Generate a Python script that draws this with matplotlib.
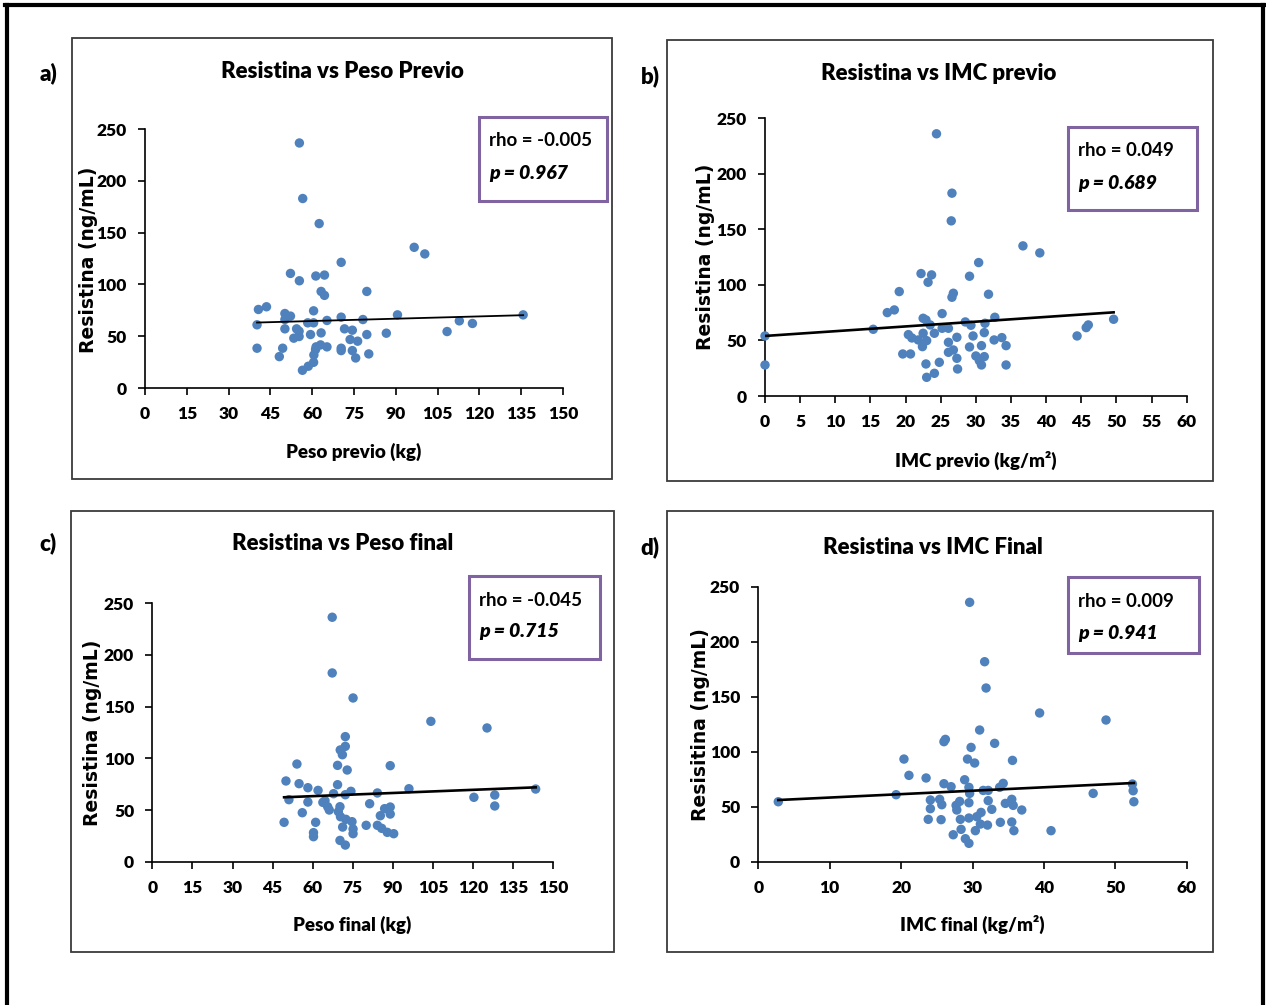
import matplotlib
matplotlib.use("Agg")
import matplotlib.pyplot as plt
from matplotlib.patches import Rectangle
from matplotlib.lines import Line2D
import numpy as np

W, H = 1266, 1005
NARROW = ['Lato', 'DejaVu Sans']

# ---- data ----
a_x = [55.4,56.6,62.5,96.6,100.4,70.4,52.2,55.4,61.3,64.4,63.2,64.4,79.6,40.7,43.6,50.2,52.2,50.2,60.5,58.4,
       60.5,65.3,70.4,78.2,90.6,135.7,112.8,117.5,108.4,40.2,50.2,54.4,55.3,53.4,55.3,59.4,63.2,71.6,74.4,79.6,
       86.6,73.6,76.3,40.2,49.4,61.4,63.0,65.3,70.4,70.4,74.4,80.3,75.6,48.2,60.6,60.5,58.6,56.5,61.2]
a_y = [236.5,182.9,158.7,135.8,129.4,121.3,110.6,103.5,108.1,109.0,93.2,89.4,93.2,75.8,78.4,71.9,69.4,66.1,74.5,62.9,
       62.9,65.2,68.4,66.1,70.6,70.6,64.8,62.3,54.5,61.0,57.1,57.1,54.8,48.1,49.7,51.6,53.2,57.1,55.8,51.6,
       52.9,46.8,45.2,38.4,38.4,39.7,41.6,39.7,38.4,36.1,36.1,32.9,29.0,30.3,31.9,24.8,21.0,17.1,37.1]

b_x = [24.4,26.6,26.5,36.7,39.1,30.4,22.2,23.7,23.2,29.1,19.1,26.8,26.6,31.8,17.4,18.4,25.2,15.4,22.5,22.9,
       23.5,25.2,26.1,28.5,29.3,31.3,32.7,0,0,20.4,20.9,21.8,22.5,23.0,22.4,24.1,27.3,26.1,29.6,31.2,
       32.6,33.7,34.3,30.8,29.1,44.4,45.7,46.0,49.6,19.6,20.7,26.1,26.8,27.3,30.0,31.2,30.5,30.8,22.9,24.8,
       34.3,23.0,24.1,27.4]
b_y = [235.8,182.4,157.5,135.0,128.7,120.0,110.1,108.9,102.3,107.7,93.9,92.4,88.8,91.5,75.0,77.4,74.1,60.0,69.9,68.4,
       63.9,60.9,60.9,66.6,63.6,65.4,70.8,54.0,27.9,55.2,52.2,50.4,56.4,49.8,44.4,56.4,52.8,48.3,54.0,57.0,
       50.4,52.5,45.3,45.3,44.1,54.0,61.5,63.9,69.0,37.8,37.8,39.3,41.4,33.9,36.0,35.4,31.8,27.9,28.8,30.3,
       27.9,16.8,20.4,24.3]

c_x = [67.3,67.3,75.1,104.2,125.2,72.2,72.2,70.3,71.1,54.1,69.3,72.9,89.0,50.0,54.9,58.2,62.0,69.3,96.0,143.4,
       84.2,74.3,72.2,67.8,51.1,58.2,63.8,65.6,66.2,70.2,69.6,81.3,120.3,128.1,128.1,56.1,86.9,89.0,89.0,85.3,
       49.3,61.1,70.4,72.4,74.7,71.2,75.1,75.1,80.0,84.2,85.8,87.9,90.3,60.3,60.3,70.2,72.2,64.6]
c_y = [236.5,182.6,158.4,135.8,129.4,121.0,111.6,108.1,103.5,94.5,93.2,88.7,92.9,78.1,75.5,71.6,69.0,74.5,70.6,70.3,
       66.5,68.1,64.8,65.8,60.0,57.7,57.4,53.2,50.0,53.2,48.4,56.1,62.3,64.5,53.9,47.4,51.3,52.9,46.1,44.5,
       38.1,38.1,43.5,41.0,38.7,33.5,31.6,27.1,35.2,35.2,32.3,28.4,27.1,28.1,24.2,20.6,16.1,59.0]

d_x = [29.6,31.7,31.9,39.4,48.7,31.0,26.0,26.2,29.8,33.1,20.4,29.3,30.3,35.6,21.1,23.5,26.0,27.0,28.9,29.5,
       34.3,33.8,31.5,32.2,52.4,52.5,52.6,46.9,19.3,2.8,24.1,25.4,25.7,24.1,27.7,28.2,27.8,29.5,29.6,32.2,
       32.7,34.6,35.5,35.7,36.9,23.8,25.6,28.3,29.5,30.6,31.2,31.1,32.1,33.9,35.5,28.4,30.4,35.8,41.0,27.3,
       29.0,29.5]
d_y = [235.8,181.8,157.9,135.2,128.8,119.7,109.1,111.2,103.9,107.6,93.3,93.3,89.7,92.1,78.5,76.1,70.9,68.2,74.5,67.6,
       71.2,67.6,64.8,64.8,70.6,64.5,54.5,62.1,60.9,54.5,56.1,56.7,51.8,48.2,51.2,54.8,47.0,53.6,62.1,55.5,
       47.6,53.0,56.7,51.2,47.0,38.5,38.2,38.5,39.7,40.9,44.8,34.2,33.3,35.8,36.1,29.4,28.2,28.2,28.2,24.5,
       20.9,16.7]

# trend lines (intercept, slope) as shown in the figure
trend_a = (60.2, 0.0743)
trend_b = (54.0, 0.428)
trend_c = (57.3, 0.102)
trend_d = (55.2, 0.311)

titles = ["Resistina vs Peso Previo", "Resistina vs IMC previo", "Resistina vs Peso final", "Resistina vs IMC Final"]
xlabels = ["Peso previo (kg)", "IMC previo (kg/m²)", "Peso final (kg)", "IMC final (kg/m²)"]
ylabels = ["Resistina (ng/mL)", "Resistina (ng/mL)", "Resistina (ng/mL)", "Resisitina (ng/mL)"]
rhos = ["rho = -0.005", "rho = 0.049", "rho = -0.045", "rho = 0.009"]
pvals = ["p = 0.967", "p = 0.689", "p = 0.715", "p = 0.941"]
letters = ["a)", "b)", "c)", "d)"]
xticks_a = list(range(0, 151, 15))
xticks_b = list(range(0, 61, 5))
xticks_d = list(range(0, 61, 10))
yticks = [0, 50, 100, 150, 200, 250]


def fx(px):
    return px / W


def fy(py):
    return 1 - py / H


fig = plt.figure(figsize=(W / 100, H / 100), dpi=100)

# outer border (top, left, right)
for xs, ys in [([5, 1265], [5.5, 5.5]), ([7, 7], [5.5, 1005]), ([1263, 1263], [5.5, 1005])]:
    fig.add_artist(Line2D([fx(v) for v in xs], [fy(v) for v in ys], color='black', lw=3.0,
                          transform=fig.transFigure))

# panel frames: (x0, y0, x1, y1) in pixels
frames = [(72, 38, 612, 479), (667, 40, 1213, 481), (71, 511, 614, 952), (667, 511, 1213, 952)]
for x0, y0, x1, y1 in frames:
    fig.add_artist(Rectangle((fx(x0), fy(y1)), fx(x1 - x0), (y1 - y0) / H, fill=False,
                             ec='#3a3a3a', lw=1.3, transform=fig.transFigure))

# axes boxes in pixels: (x0, y_top, x1, y_bottom)
axes_px = [(145, 129, 563, 388), (765, 118, 1186.7, 396), (152.3, 603.3, 553.3, 861.7), (758.3, 586.7, 1186.7, 861.7)]
data = [(a_x, a_y, trend_a, xticks_a, 150), (b_x, b_y, trend_b, xticks_b, 60),
        (c_x, c_y, trend_c, xticks_a, 150), (d_x, d_y, trend_d, xticks_d, 60)]
line_w = [1.3, 1.9, 1.9, 1.9]

# text positions
letter_pos = [(48, 73), (650, 76), (48, 543), (650, 547)]
title_pos = [(342, 72), (939, 73), (343, 544), (933, 548)]
xlab_pos = [(354, 452), (976, 460), (352, 925), (972, 924)]
ylab_pos = [(88, 260), (706, 257), (93, 733), (700, 725)]
boxes = [(479, 117, 607, 201), (1068, 127, 1197, 210), (469, 576, 600, 659), (1068, 577, 1199, 653)]

for i in range(4):
    x0, yt, x1, yb = axes_px[i]
    ax = fig.add_axes([fx(x0), fy(yb), fx(x1 - x0), (yb - yt) / H])
    xs, ys, tr, xt, xmax = data[i]
    ax.scatter(xs, ys, s=46, color='#4F81BD', edgecolors='none', zorder=3, clip_on=False)
    lx = np.array([min(xs), max(xs)])
    ax.plot(lx, tr[0] + tr[1] * lx, color='black', lw=line_w[i], zorder=4)
    ax.set_xlim(0, xmax)
    ax.set_ylim(0, 250)
    ax.set_xticks(xt)
    ax.set_yticks(yticks)
    for s in ['top', 'right']:
        ax.spines[s].set_visible(False)
    for s in ['left', 'bottom']:
        ax.spines[s].set_color('black')
        ax.spines[s].set_linewidth(1.2)
    ax.tick_params(direction='out', length=5, width=1.2, pad=8)
    for lab in ax.get_xticklabels() + ax.get_yticklabels():
        lab.set_family(NARROW)
        lab.set_fontweight('heavy')
        lab.set_fontsize(12.5)
    ax.set_facecolor('none')

    fig.text(fx(letter_pos[i][0]), fy(letter_pos[i][1]), letters[i], ha='center', va='center',
             family=NARROW, fontweight='heavy', fontsize=16)
    fig.text(fx(title_pos[i][0]), fy(title_pos[i][1]), titles[i], ha='center', va='center',
             family=NARROW, fontweight='heavy', fontsize=16)
    fig.text(fx(xlab_pos[i][0]), fy(xlab_pos[i][1]), xlabels[i], ha='center', va='center',
             family=NARROW, fontweight='heavy', fontsize=13.5)
    fig.text(fx(ylab_pos[i][0]), fy(ylab_pos[i][1]), ylabels[i], ha='center', va='center',
             rotation=90, family='DejaVu Sans', fontweight='bold', fontsize=13.5)

    bx0, by0, bx1, by1 = boxes[i]
    fig.add_artist(Rectangle((fx(bx0), fy(by1)), fx(bx1 - bx0), (by1 - by0) / H, fill=False,
                             ec='#8064A2', lw=2.2, transform=fig.transFigure))
    fig.text(fx(bx0 + 10), fy(by0 + 24), rhos[i], ha='left', va='center',
             family=NARROW, fontweight='bold', fontsize=13.5)
    fig.text(fx(bx0 + 10), fy(by0 + 56), pvals[i], ha='left', va='center',
             family=NARROW, fontweight='heavy', style='italic', fontsize=14)

fig.savefig('out.png', dpi=100)
